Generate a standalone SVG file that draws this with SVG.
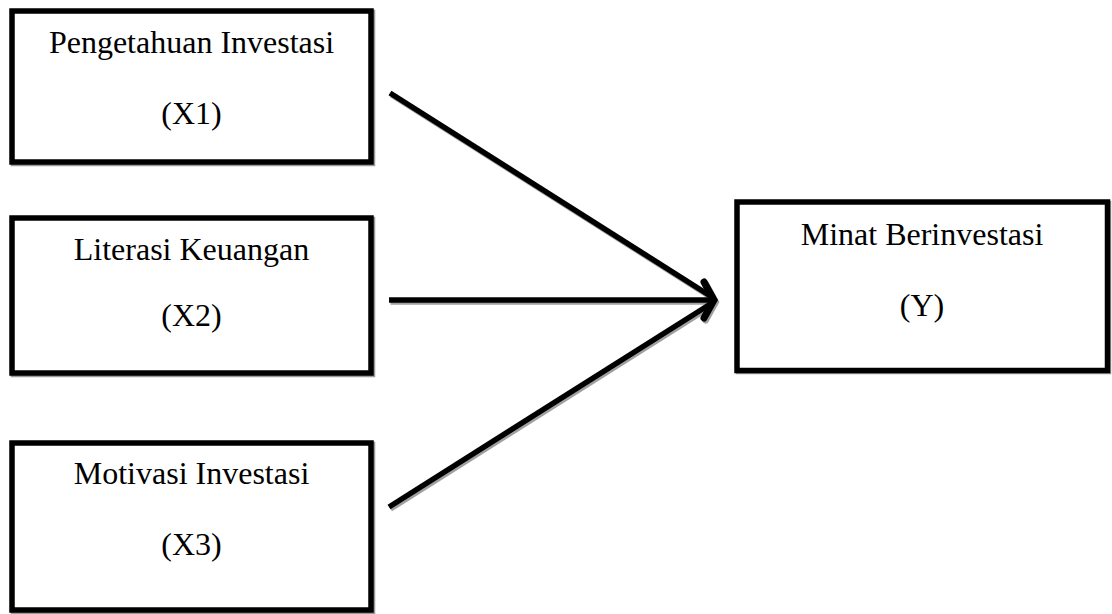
<svg xmlns="http://www.w3.org/2000/svg" width="1112" height="614" viewBox="0 0 1112 614">
<style>
.box{fill:#fff;stroke:#000;stroke-width:5.5}
.sh{fill:none;stroke:#9a9a9a;stroke-width:5.5}
.t{font-family:"Liberation Serif","Times New Roman",serif;font-size:32px;fill:#000;text-anchor:middle}
.ln{fill:none;stroke:#000;stroke-width:5.5}
.lsh{fill:none;stroke:#a0a0a0;stroke-width:5.5}
.hd{stroke-width:7;stroke-linejoin:miter;stroke-linecap:round}
</style>
<rect width="1112" height="614" fill="#fff"/>
<g id="x1">
<rect class="sh" x="13.5" y="12.5" width="359" height="151"/>
<rect class="box" x="12" y="11" width="359" height="151"/>
<text class="t" x="191.5" y="53">Pengetahuan Investasi</text>
<text class="t" x="191.5" y="124">(X1)</text>
</g>
<g id="x2">
<rect class="sh" x="13.5" y="219.5" width="359" height="155"/>
<rect class="box" x="12" y="218" width="359" height="155"/>
<text class="t" x="191.5" y="260">Literasi Keuangan</text>
<text class="t" x="191.5" y="326">(X2)</text>
</g>
<g id="x3">
<rect class="sh" x="13.5" y="444.5" width="359" height="167"/>
<rect class="box" x="12" y="443" width="359" height="167"/>
<text class="t" x="191.5" y="484">Motivasi Investasi</text>
<text class="t" x="191.5" y="555">(X3)</text>
</g>
<g id="y">
<rect class="sh" x="738.5" y="203.5" width="370" height="168"/>
<rect class="box" x="737" y="202" width="370.5" height="168.5"/>
<text class="t" x="922" y="245">Minat Berinvestasi</text>
<text class="t" x="922" y="316">(Y)</text>
</g>
<g id="connectors">
<g transform="translate(1.5,2)">
<path class="lsh" d="M390,93 L712,297"/>
<path class="lsh" d="M389,300 L712,300"/>
<path class="lsh" d="M389,507 L712,303"/>
<path class="lsh hd" d="M704,282 L714,300 L704,318"/>
</g>
<path class="ln" d="M390,93 L712,297"/>
<path class="ln" d="M389,300 L712,300"/>
<path class="ln" d="M389,507 L712,303"/>
<path class="ln hd" d="M704,282 L714,300 L704,318"/>
</g>
</svg>
